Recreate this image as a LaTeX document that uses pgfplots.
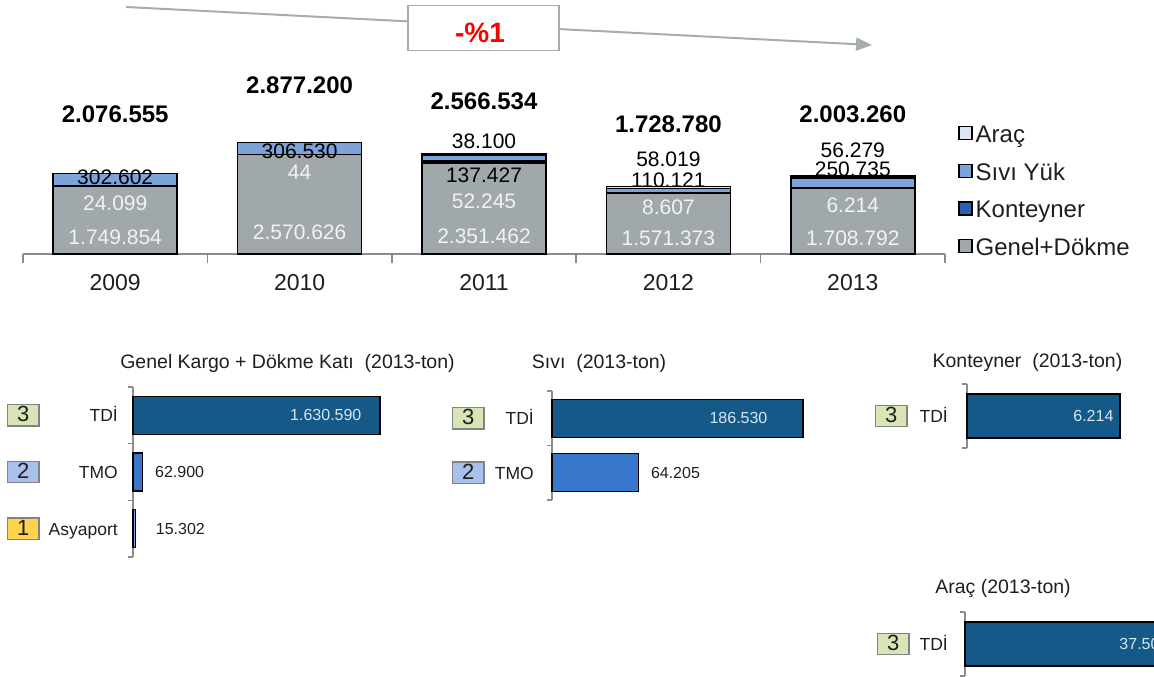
\documentclass[border=0pt]{standalone}
\usepackage{pgfplots}
\pgfplotsset{compat=1.18}
\usepackage{pgfplotstable}
\usepackage{fontspec}
\setmainfont{Liberation Sans}
\usetikzlibrary{arrows.meta}

\definecolor{genel}{RGB}{160,168,172}
\definecolor{kont}{RGB}{46,96,176}
\definecolor{sivi}{RGB}{124,163,218}
\definecolor{arac}{RGB}{220,230,242}
\definecolor{axisgray}{RGB}{140,140,140}
\definecolor{trendgray}{RGB}{165,173,176}
\definecolor{boxgray}{RGB}{170,170,170}
\definecolor{tdiblue}{RGB}{21,89,137}
\definecolor{tmoblue}{RGB}{55,120,205}
\definecolor{asyblue}{RGB}{127,166,222}
\definecolor{rkgreen}{RGB}{215,230,180}
\definecolor{rkblue}{RGB}{168,192,236}
\definecolor{rkyellow}{RGB}{255,210,80}
\definecolor{rankframe}{RGB}{130,130,130}
\definecolor{insidetext}{RGB}{215,230,240}
\definecolor{whitetext}{RGB}{242,242,242}
\definecolor{labeltext}{RGB}{30,30,30}

\newcommand\fsz[1]{\fontsize{#1}{#1}\selectfont}
% rank badge and category label in one tick label
\newcommand\rk[2]{{\setlength\fboxsep{0pt}\setlength\fboxrule{1.4pt}%
  \fcolorbox{rankframe}{#1}{\makebox[30pt]{\rule[-3.5pt]{0pt}{20pt}\fsz{22}#2}}}}
\newcommand\cat[4]{\makebox[#1]{\rk{#2}{#3}\hfill#4}}

\pgfplotsset{
  /pgf/number format/.cd, 1000 sep={.}, fixed, precision=0, assume math mode=true,
  /pgfplots/.cd,
  lgsq/.style={legend image code/.code={\draw[##1,draw=black,line width=1.3pt] (0pt,-2.5pt) rectangle (13pt,10.5pt);}},
  lbl/.style={only marks, mark=*, mark size=0pt, mark options={draw=none,fill=none},
    point meta=explicit, nodes near coords,
    every node near coord/.append style={anchor=center, inner sep=0pt}},
  hbar/.style={scale only axis, anchor=south west, xmin=0, ymin=-0.5,
    xbar, bar shift=0pt, axis x line=none, axis y line*=left, xtick=\empty,
    major tick length=0pt, minor tick length=5pt, tick align=outside,
    axis line style={draw=axisgray, line width=1.5pt},
    every minor tick/.append style={draw=axisgray, line width=1.5pt},
    yticklabel style={font=\fsz{17.5}, anchor=east, inner sep=0pt, text=labeltext},
    title style={anchor=center, font=\fsz{19.5}, inner sep=0pt, text=labeltext},
    clip=false, point meta=x, nodes near coords,
    every node near coord/.append style={font=\fsz{16}, inner sep=0pt}},
}

% tonnage by cargo type, 2009-2013
\pgfplotstableread{
x genel kont sivi arac
0 1749854 24099 302602 0
1 2570626 44 306530 0
2 2351462 52245 137427 38100
3 1571373 8607 110121 58019
4 1708792 6214 250735 56279
}\topdata

% yearly totals (label row)
\pgfplotstableread{
x y v
0 114 2076555
1 85 2877200
2 101 2566534
3 124 1728780
4 114 2003260
}\totals

% liquid and vehicle labels
\pgfplotstableread{
x y v
0 177 302602
1 151 306530
2 141 38100
2 175 137427
3 159 58019
3 180 110121
4 150 56279
4 169 250735
}\darklabels

% general/bulk and container labels
\pgfplotstableread{
x y v
0 203 24099
1 172 44
2 201 52245
3 207 8607
4 205 6214
0 237 1749854
1 232 2570626
2 236 2351462
3 238 1571373
4 238 1708792
}\lightlabels

\begin{document}
\begin{tikzpicture}
\path[use as bounding box] (0,0) rectangle (1154pt,-677pt);

% trend arrow and change box
\draw[trendgray, line width=2pt, -{Triangle[length=16pt,width=13pt]}] (126pt,-7pt) -- (872pt,-45pt);
\node[draw=boxgray, fill=white, line width=1.5pt, minimum width=151pt, minimum height=45pt, inner sep=0pt] at (483.5pt,-28pt) {};
\node[text=red, font=\bfseries\fsz{28}, inner sep=0pt] at (480pt,-33pt) {-\%1};

% stacked bars
\begin{axis}[
  at={(23pt,-254pt)}, anchor=south west, scale only axis,
  width=922pt, height=193.5pt,
  xmin=-0.5, xmax=4.5, ymin=0, ymax=5000000,
  ybar stacked, bar width=124pt,
  axis x line*=bottom, axis y line=none,
  xtick={0,1,2,3,4}, xticklabels={2009,2010,2011,2012,2013},
  minor xtick={-0.5,0.5,1.5,2.5,3.5,4.5},
  major tick length=0pt, minor tick length=9pt, tick align=outside,
  axis line style={draw=axisgray, line width=1.5pt},
  every minor tick/.append style={draw=axisgray, line width=1.5pt},
  xticklabel style={font=\fsz{23}, anchor=north, inner sep=0pt, yshift=-20pt, text=labeltext},
  clip=false,
  reverse legend,
  legend cell align=left,
  legend style={at={(1.0145,0.6615)}, anchor=north west, draw=none, fill=none,
    inner sep=0pt, outer sep=0pt, row sep=16pt, column sep=3pt, font=\fsz{24},
    text=labeltext, nodes={inner sep=0pt, text height=16pt, text depth=5pt}},
]
\addplot[fill=genel, draw=black, line width=1.6pt, lgsq] table[x=x, y=genel] {\topdata};
\addplot[fill=kont, draw=black, line width=1.6pt, lgsq] table[x=x, y=kont] {\topdata};
\addplot[fill=sivi, draw=black, line width=1.6pt, lgsq] table[x=x, y=sivi] {\topdata};
\addplot[fill=arac, draw=black, line width=1.6pt, lgsq] table[x=x, y=arac] {\topdata};
\legend{Genel+Dökme, Konteyner, Sıvı Yük, Araç}
\end{axis}

% value labels of the stacked bars
\begin{axis}[
  at={(23pt,-254pt)}, anchor=south west, scale only axis,
  width=922pt, height=193.5pt,
  xmin=-0.5, xmax=4.5, ymin=60.5, ymax=254, y dir=reverse,
  hide axis, clip=false,
]
\addplot[lbl, every node near coord/.append style={font=\bfseries\fsz{24}, text=black}] table[x=x, y=y, meta=v] {\totals};
\addplot[lbl, every node near coord/.append style={font=\fsz{21}, text=black}] table[x=x, y=y, meta=v] {\darklabels};
\addplot[lbl, every node near coord/.append style={font=\fsz{21}, text=whitetext}] table[x=x, y=y, meta=v] {\lightlabels};
\end{axis}

% general cargo + dry bulk by operator
\begin{axis}[hbar,
  at={(133pt,-557pt)}, width=250pt, height=170pt,
  xmax=1650400, ymax=2.5, bar width=38pt,
  ytick={0,1,2},
  yticklabels={{\cat{111pt}{rkyellow}{1}{Asyaport}},{\cat{111pt}{rkblue}{2}{TMO}},{\cat{111pt}{rkgreen}{3}{TDİ}}},
  minor ytick={-0.5,0.5,1.5,2.5},
  yticklabel style={xshift=-15pt},
  title={Genel Kargo + Dökme Katı~~(2013-ton)}, title style={at={(0.618,1.106)}},
]
\addplot[fill=tdiblue, draw=black, line width=1.2pt, every node near coord/.append style={anchor=east, xshift=-18pt, text=insidetext}] coordinates {(1630590,2)};
\addplot[fill=tmoblue, draw=black, line width=1.2pt, every node near coord/.append style={anchor=west, xshift=12pt, text=labeltext}] coordinates {(62900,1)};
\addplot[fill=asyblue, draw=black, line width=1.2pt, every node near coord/.append style={anchor=west, xshift=20pt, text=labeltext}] coordinates {(15302,0)};
\end{axis}

% liquid cargo by operator
\begin{axis}[hbar,
  at={(552pt,-500pt)}, width=260pt, height=109pt,
  xmax=193218, ymax=1.5, bar width=38pt,
  ytick={0,1},
  yticklabels={{\cat{82pt}{rkblue}{2}{TMO}},{\cat{82pt}{rkgreen}{3}{TDİ}}},
  minor ytick={-0.5,0.5,1.5},
  yticklabel style={xshift=-18pt},
  title={Sıvı~~(2013-ton)}, title style={at={(0.181,1.2)}},
]
\addplot[fill=tdiblue, draw=black, line width=1.2pt, every node near coord/.append style={anchor=east, xshift=-35pt, text=insidetext}] coordinates {(186530,1)};
\addplot[fill=tmoblue, draw=black, line width=1.2pt, every node near coord/.append style={anchor=west, xshift=12pt, text=labeltext}] coordinates {(64205,0)};
\end{axis}

% containers by operator
\begin{axis}[hbar,
  at={(967pt,-448pt)}, width=153pt, height=64pt,
  xmax=6214, ymax=0.5, bar width=44pt,
  ytick={0},
  yticklabels={{\cat{73pt}{rkgreen}{3}{TDİ}}},
  minor ytick={-0.5,0.5},
  yticklabel style={xshift=-19pt},
  title={Konteyner~~(2013-ton)}, title style={at={(0.395,1.25)}},
]
\addplot[fill=tdiblue, draw=black, line width=1.2pt, every node near coord/.append style={anchor=east, xshift=-6pt, text=insidetext}] coordinates {(6214,0)};
\end{axis}

% vehicles by operator
\begin{axis}[hbar,
  at={(965pt,-676pt)}, width=210pt, height=64pt,
  xmax=37500, ymax=0.5, bar width=44pt,
  ytick={0},
  yticklabels={{\cat{71pt}{rkgreen}{3}{TDİ}}},
  minor ytick={-0.5,0.5},
  yticklabel style={xshift=-17pt},
  title={Araç (2013-ton)}, title style={at={(0.181,1.266)}},
]
\addplot[fill=tdiblue, draw=black, line width=1.2pt, every node near coord/.append style={anchor=east, xshift=-6pt, text=insidetext}] coordinates {(37500,0)};
\end{axis}
\end{tikzpicture}
\end{document}
